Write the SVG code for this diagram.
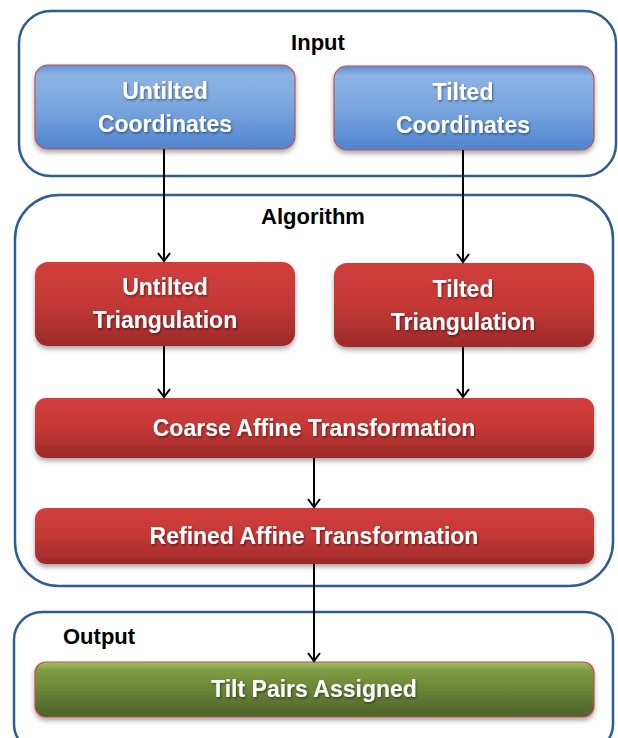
<svg xmlns="http://www.w3.org/2000/svg" width="618" height="738" viewBox="0 0 618 738">
<defs>
<linearGradient id="gBlue" x1="0" y1="0" x2="0" y2="1">
<stop offset="0" stop-color="#5f90d4"/>
<stop offset="0.12" stop-color="#8db3e4"/>
<stop offset="0.5" stop-color="#7aa6de"/>
<stop offset="1" stop-color="#4f85d0"/>
</linearGradient>
<linearGradient id="gRed" x1="0" y1="0" x2="0" y2="1">
<stop offset="0" stop-color="#d13e3c"/>
<stop offset="0.5" stop-color="#c53836"/>
<stop offset="1" stop-color="#9c2a29"/>
</linearGradient>
<linearGradient id="gGreen" x1="0" y1="0" x2="0" y2="1">
<stop offset="0" stop-color="#a3c06a"/>
<stop offset="0.15" stop-color="#7e9c42"/>
<stop offset="1" stop-color="#4d6229"/>
</linearGradient>
<filter id="sh" x="-10%" y="-20%" width="120%" height="150%">
<feDropShadow dx="0" dy="3" stdDeviation="2.5" flood-color="#000" flood-opacity="0.35"/>
</filter>
<filter id="ts" x="-10%" y="-30%" width="120%" height="160%">
<feDropShadow dx="1" dy="1.5" stdDeviation="1" flood-color="#000" flood-opacity="0.45"/>
</filter>
<marker id="arr" markerWidth="16" markerHeight="16" refX="0" refY="0" viewBox="-9 -8 10 16" orient="auto" markerUnits="userSpaceOnUse">
<path d="M-8,-6 L0,0 L-8,6" fill="none" stroke="#000" stroke-width="2"/>
</marker>
</defs>
<style>
.cont{fill:#fff;stroke:#2f5c93;stroke-width:2.5}
.title{font-family:"Liberation Sans",Arial,sans-serif;font-weight:bold;font-size:22px;fill:#000}
.lbl{font-family:"Liberation Sans",Arial,sans-serif;font-weight:bold;font-size:23px;fill:#fff;text-anchor:middle}
.blue{fill:url(#gBlue);stroke:#c0504d;stroke-width:1.2}
.red{fill:url(#gRed)}
.green{fill:url(#gGreen);stroke:#c0504d;stroke-width:1.2}
.conn{stroke:#000;stroke-width:2;fill:none}
</style>
<rect width="618" height="738" fill="#fff"/>

<g id="input-group">
<rect class="cont" x="19" y="11" width="597" height="165" rx="32"/>
<text class="title" x="318" y="50" text-anchor="middle">Input</text>
</g>
<g id="algorithm-group">
<rect class="cont" x="15" y="195" width="598" height="391" rx="44"/>
<text class="title" x="313" y="224" text-anchor="middle">Algorithm</text>
</g>
<g id="output-group">
<rect class="cont" x="14" y="612" width="599" height="140" rx="28"/>
<text class="title" x="63" y="644">Output</text>
</g>

<g id="untilted-coordinates" filter="url(#sh)">
<rect class="blue" x="35" y="65" width="260" height="84" rx="13"/>
<g filter="url(#ts)"><text class="lbl" x="165" y="99">Untilted</text><text class="lbl" x="165" y="132">Coordinates</text></g>
</g>
<g id="tilted-coordinates" filter="url(#sh)">
<rect class="blue" x="334" y="66" width="260" height="84" rx="13"/>
<g filter="url(#ts)"><text class="lbl" x="463" y="100">Tilted</text><text class="lbl" x="463" y="133">Coordinates</text></g>
</g>
<g id="untilted-triangulation" filter="url(#sh)">
<rect class="red" x="35" y="262" width="260" height="84" rx="13"/>
<g filter="url(#ts)"><text class="lbl" x="165" y="295">Untilted</text><text class="lbl" x="165" y="328">Triangulation</text></g>
</g>
<g id="tilted-triangulation" filter="url(#sh)">
<rect class="red" x="334" y="263" width="260" height="84" rx="13"/>
<g filter="url(#ts)"><text class="lbl" x="463" y="297">Tilted</text><text class="lbl" x="463" y="330">Triangulation</text></g>
</g>
<g id="coarse-affine" filter="url(#sh)">
<rect class="red" x="35" y="398" width="559" height="60" rx="11"/>
<g filter="url(#ts)"><text class="lbl" x="314" y="436">Coarse Affine Transformation</text></g>
</g>
<g id="refined-affine" filter="url(#sh)">
<rect class="red" x="35" y="508" width="559" height="56" rx="11"/>
<g filter="url(#ts)"><text class="lbl" x="314" y="544">Refined Affine Transformation</text></g>
</g>
<g id="tilt-pairs" filter="url(#sh)">
<rect class="green" x="35" y="662" width="559" height="55" rx="11"/>
<g filter="url(#ts)"><text class="lbl" x="314" y="697">Tilt Pairs Assigned</text></g>
</g>

<g id="connectors">
<line class="conn" x1="164" y1="149" x2="164" y2="261" marker-end="url(#arr)"/>
<line class="conn" x1="463" y1="150" x2="463" y2="262" marker-end="url(#arr)"/>
<line class="conn" x1="164" y1="346" x2="164" y2="397" marker-end="url(#arr)"/>
<line class="conn" x1="463" y1="347" x2="463" y2="397" marker-end="url(#arr)"/>
<line class="conn" x1="314" y1="458" x2="314" y2="507" marker-end="url(#arr)"/>
<line class="conn" x1="314" y1="564" x2="314" y2="661" marker-end="url(#arr)"/>
</g>
</svg>
